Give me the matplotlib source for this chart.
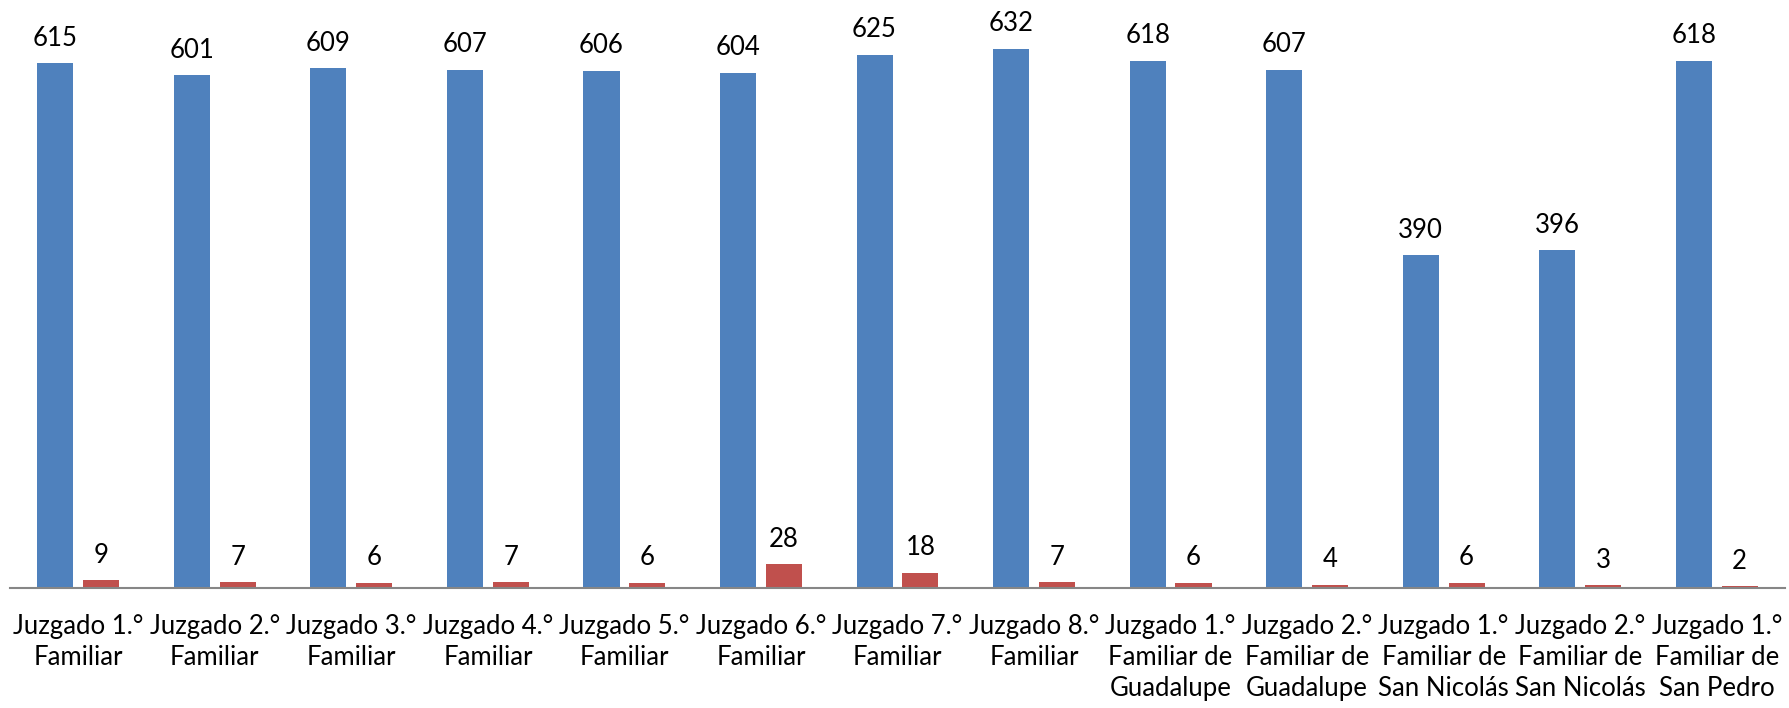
import numpy as np
import matplotlib
matplotlib.use("Agg")
import matplotlib.pyplot as plt

plt.rcParams["font.family"] = ["Lato", "DejaVu Sans"]

categories = [
    "Juzgado 1.°\nFamiliar", "Juzgado 2.°\nFamiliar", "Juzgado 3.°\nFamiliar",
    "Juzgado 4.°\nFamiliar", "Juzgado 5.°\nFamiliar", "Juzgado 6.°\nFamiliar",
    "Juzgado 7.°\nFamiliar", "Juzgado 8.°\nFamiliar",
    "Juzgado 1.°\nFamiliar de\nGuadalupe", "Juzgado 2.°\nFamiliar de\nGuadalupe",
    "Juzgado 1.°\nFamiliar de\nSan Nicolás", "Juzgado 2.°\nFamiliar de\nSan Nicolás",
    "Juzgado 1.°\nFamiliar de\nSan Pedro",
]
serie_azul = [615, 601, 609, 607, 606, 604, 625, 632, 618, 607, 390, 396, 618]
serie_roja = [9, 7, 6, 7, 6, 28, 18, 7, 6, 4, 6, 3, 2]

AZUL = "#4F81BD"
ROJO = "#C0504D"

W, H = 1789, 708
fig = plt.figure(figsize=(W / 100, H / 100), dpi=100)
# axis box in pixels: x 10..1785, baseline at y=588, top at y=0
ax = fig.add_axes([10 / W, (H - 588) / H, 1775 / W, 588 / H])

x = np.arange(len(categories))
bw = 0.264
off = 0.168
b1 = ax.bar(x - off, serie_azul, bw, color=AZUL)
b2 = ax.bar(x + off, serie_roja, bw, color=ROJO)

for bars in (b1, b2):
    for rect in bars:
        h = rect.get_height()
        ax.annotate(f"{h:.0f}", (rect.get_x() + rect.get_width() / 2, h),
                    xytext=(0, 9), textcoords="offset points",
                    ha="center", va="bottom", fontsize=18.5)

ax.set_xlim(-0.5, len(categories) - 0.5)
ax.set_ylim(0, 689)
ax.set_yticks([])
ax.set_xticks(x)
ax.set_xticklabels(categories, fontsize=18.5, linespacing=1.3)
ax.tick_params(axis="x", length=0, pad=19)
for s in ("top", "right", "left"):
    ax.spines[s].set_visible(False)
ax.spines["bottom"].set_color("#868686")
ax.spines["bottom"].set_linewidth(1.5)

fig.savefig("out.png", dpi=100)
